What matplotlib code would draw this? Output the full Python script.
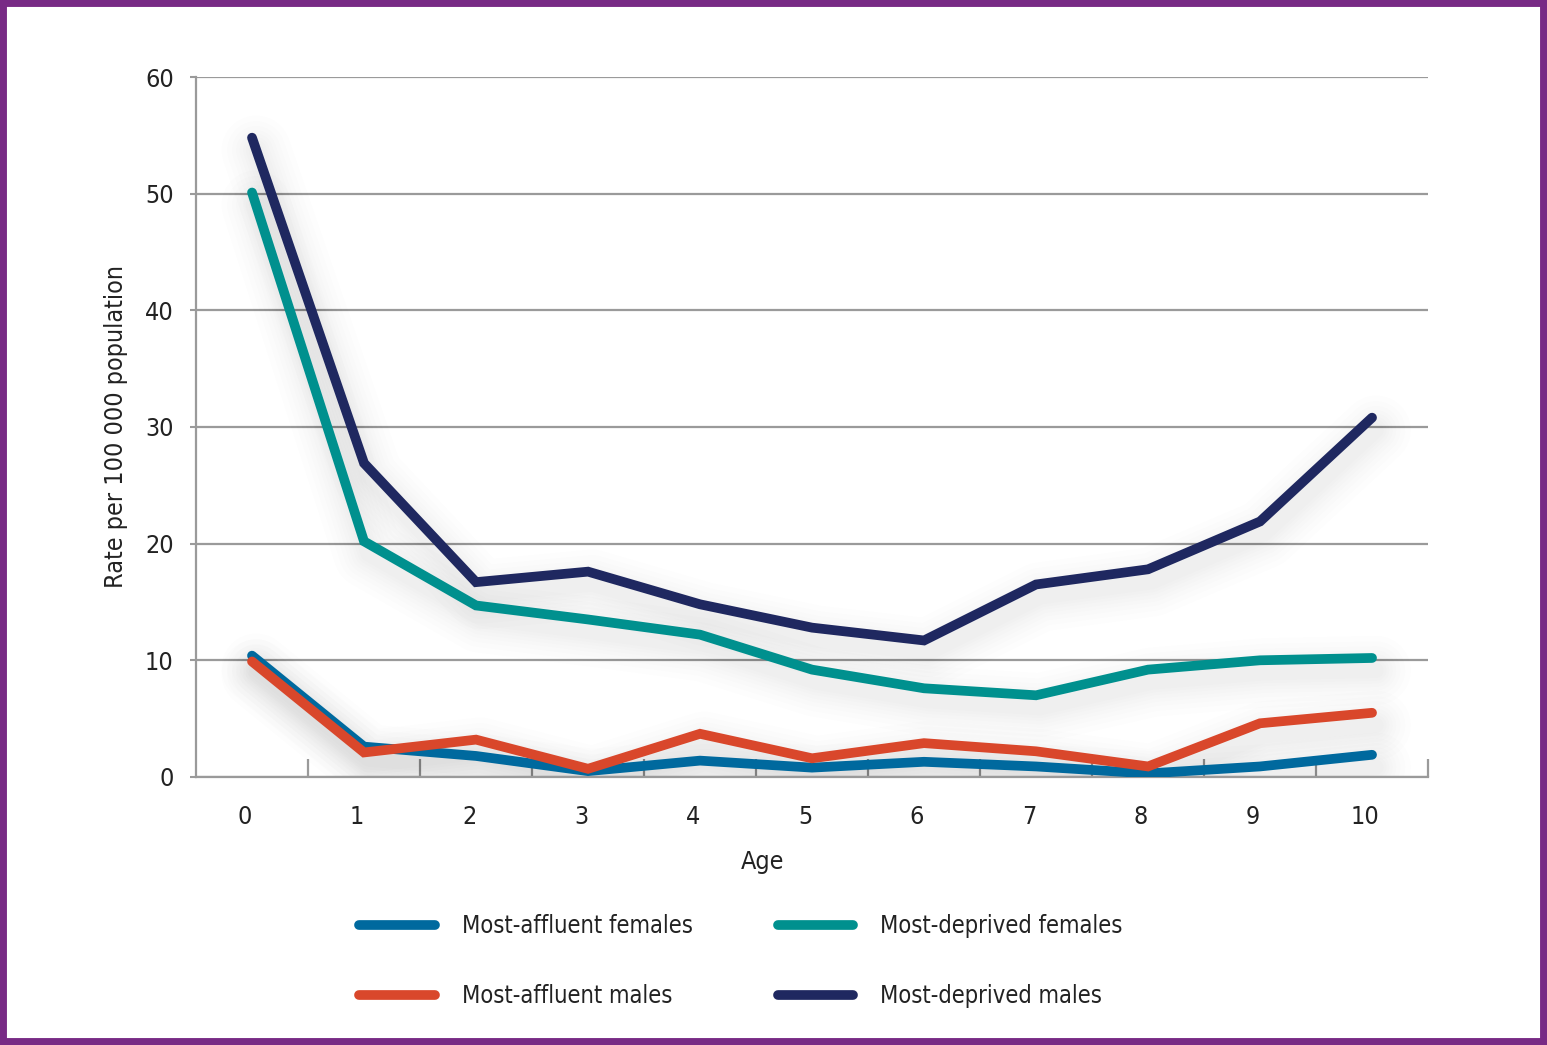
import numpy as np
import matplotlib
matplotlib.use("Agg")
import matplotlib.pyplot as plt
import matplotlib.patheffects as pe
import matplotlib.transforms as mtransforms
from matplotlib.patches import Rectangle

plt.rcParams['font.family'] = ['DejaVu Sans']
plt.rcParams['font.stretch'] = 'condensed'

ages = list(range(0, 11))
age_labels = [str(a) for a in ages]

affluent_females = [10.4, 2.6, 1.8, 0.5, 1.4, 0.8, 1.3, 0.9, 0.3, 0.9, 1.9]
affluent_males = [9.9, 2.1, 3.2, 0.7, 3.7, 1.6, 2.9, 2.2, 0.9, 4.6, 5.5]
deprived_females = [50.1, 20.2, 14.7, 13.5, 12.2, 9.2, 7.6, 7.0, 9.2, 10.0, 10.2]
deprived_males = [54.8, 26.9, 16.7, 17.6, 14.8, 12.8, 11.7, 16.5, 17.8, 21.9, 30.8]

series = [
    ("Most-affluent females", affluent_females, "#00699e"),
    ("Most-affluent males", affluent_males, "#d9472b"),
    ("Most-deprived females", deprived_females, "#00908e"),
    ("Most-deprived males", deprived_males, "#1f2860"),
]

fig = plt.figure(figsize=(15.47, 10.45), dpi=100)
ax = fig.add_axes([0.1267, 0.2565, 0.7964, 0.6698])

# soft drop shadow under each line
for name, vals, col in series:
    effects = [pe.Stroke(linewidth=w, foreground='black', alpha=0.009, offset=(3, -9))
               for w in (50, 42, 35, 29, 24, 19, 15, 11)]
    ax.plot(ages, vals, color='none', lw=7, zorder=1, path_effects=effects,
            solid_capstyle='round', solid_joinstyle='round')

lines = []
for name, vals, col in series:
    ln, = ax.plot(ages, vals, color=col, lw=7, label=name, zorder=3,
                  solid_capstyle='round', solid_joinstyle='miter')
    lines.append(ln)

ax.set_xlim(-0.5, 10.5)
ax.set_ylim(0, 60)
ax.set_yticks(range(0, 61, 10))
ax.yaxis.grid(True, color='#9a9a9a', lw=1.6, zorder=0)
ax.set_axisbelow(True)

ax.set_xticks(ages)
ax.set_xticklabels(age_labels)
ax.set_xticks(np.arange(0.5, 11, 1), minor=True)
ax.tick_params(axis='x', which='major', length=0, pad=20, labelsize=18, labelcolor='#222222')
ax.tick_params(axis='x', which='minor', direction='in', length=13, width=1.6, color='#9a9a9a')
ax.tick_params(axis='y', length=4, width=1.5, color='#9a9a9a', pad=12, labelsize=18,
               labelcolor='#222222')

# labels in the original sit a little left of the data points
shift = mtransforms.ScaledTranslation(-7 / 100, 0, fig.dpi_scale_trans)
for lbl in ax.get_xticklabels():
    lbl.set_transform(lbl.get_transform() + shift)

for s in ['top', 'right']:
    ax.spines[s].set_visible(False)
for s in ['left', 'bottom']:
    ax.spines[s].set_color('#9a9a9a')
    ax.spines[s].set_linewidth(1.6)

ax.set_xlabel("Age", fontsize=18, color='#222222', labelpad=14)
ax.xaxis.set_label_coords(0.46, -0.105)
ax.set_ylabel("Rate per 100 000 population", fontsize=18, color='#222222', labelpad=12)

fig.legend(handles=lines, loc='center', bbox_to_anchor=(0.479, 0.0805), ncol=2,
           frameon=False, fontsize=17, handlelength=3.2, handletextpad=1.15,
           columnspacing=3.6, labelspacing=1.95, labelcolor='#222222')

fig.patches.append(Rectangle((0, 0), 1, 1, transform=fig.transFigure, fill=False,
                             edgecolor='#782a85', lw=10, zorder=10))

fig.savefig("out.png", dpi=100)
